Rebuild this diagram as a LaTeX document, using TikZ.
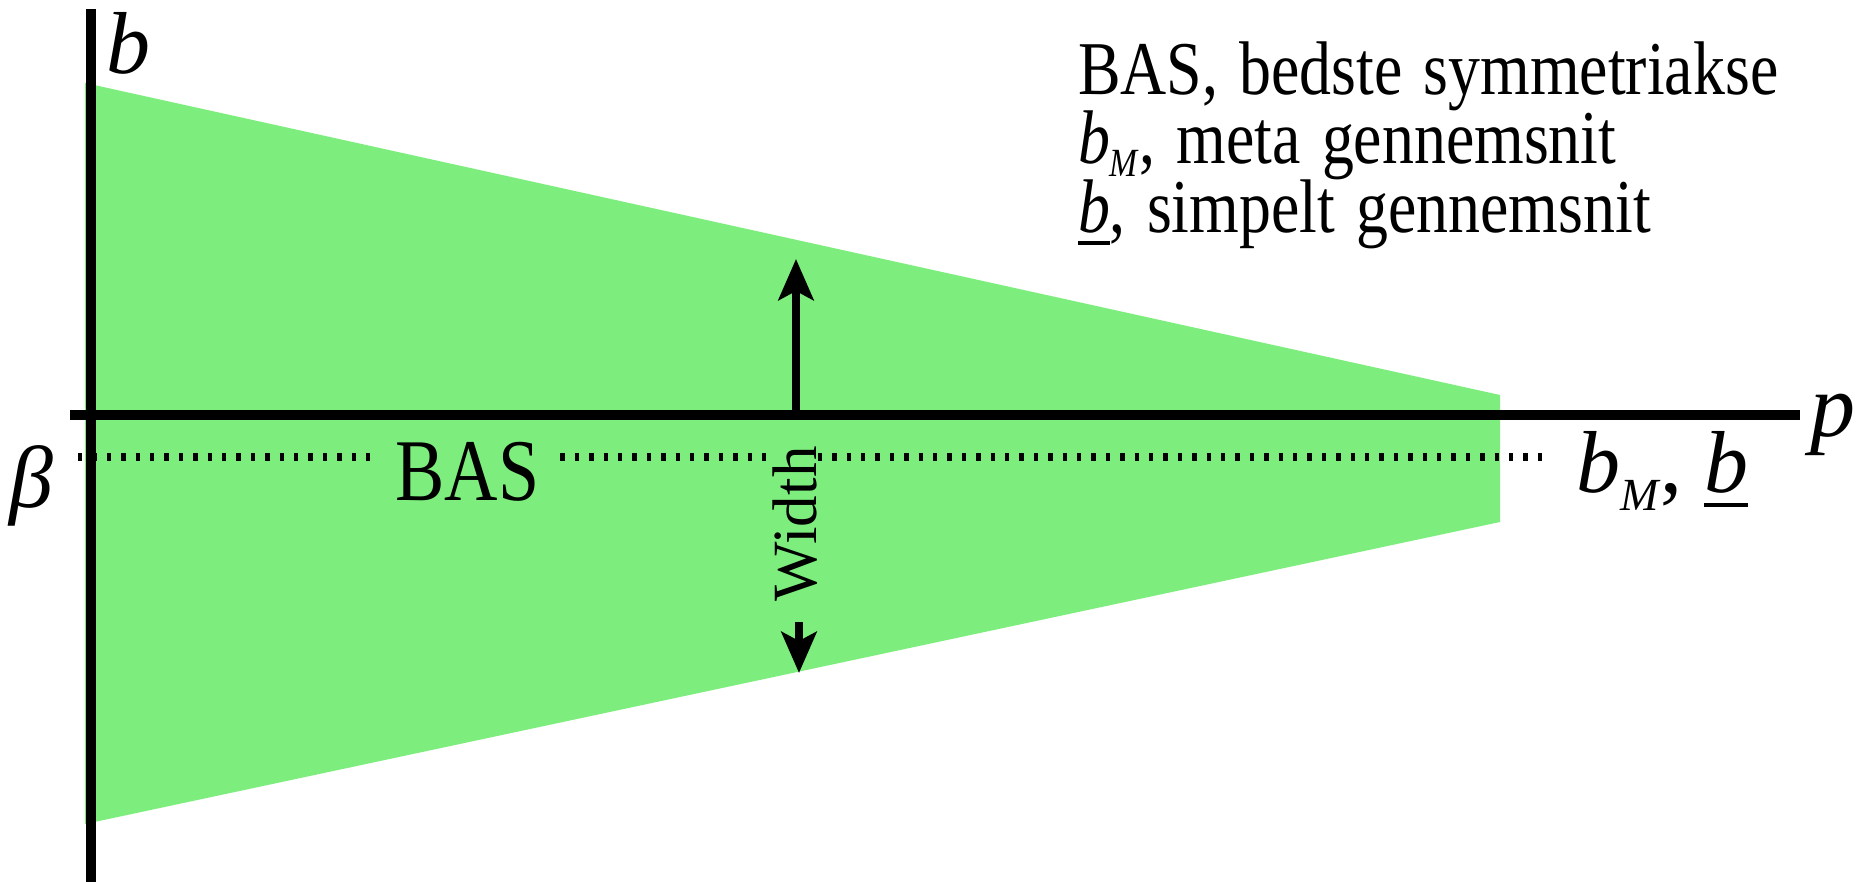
\documentclass[tikz,border=0pt]{standalone}
\usepackage{fontspec}
\setmainfont{Liberation Serif}
\usetikzlibrary{arrows.meta}
\definecolor{fillgreen}{RGB}{125,238,125}
\newcommand{\hsq}[2][0.8]{\scalebox{#1}[1]{#2}}
\newcommand{\fsz}[1]{\fontsize{#1}{#1}\selectfont}
% thick underline: #1 text, #2 depth of lower edge, #3 thickness
\newcommand{\ulx}[3]{\setbox0\hbox{#1}\rlap{\rule[-#2]{\wd0}{#3}}\box0}
\begin{document}
\begin{tikzpicture}[x=1pt,y=-1pt,
  axisline/.style={line width=10pt,line cap=butt},
  dotline/.style={line width=8pt,dash pattern=on 4.3pt off 10.1pt},
  arrowline/.style={line width=8pt,-{Stealth[length=41pt,width=35pt,inset=9pt]}},
  lbl/.style={inner sep=0pt,outer sep=0pt}]
\useasboundingbox (0,0) rectangle (1866,882);
% green region
\fill[fillgreen] (85,83) -- (1500,395) -- (1500,522) -- (85,824) -- cycle;
% labels on the dotted line
\node[lbl,inner xsep=21pt,anchor=base] (BAS) at (467.5,500) {\fsz{88}\hsq[0.84]{BAS}};
\node[lbl,inner xsep=16pt,rotate=90] (W) at (795.5,524) {\fsz{63}Width};
\coordinate (dl) at (78,457);
\coordinate (dr) at (1552,457);
\draw[dotline] (dl) -- (dl -| BAS.west);
\draw[dotline] (dl -| BAS.east) -- (dl -| W.north);
\draw[dotline] (dl -| W.south) -- (dr);
% axes
\coordinate (xs) at (70,415);
\coordinate (xe) at (1800,415);
\coordinate (ys) at (91,9);
\coordinate (ye) at (91,882);
\draw[axisline] (xs) -- (xe);
\draw[axisline] (ys) -- (ye);
% arrows
\coordinate (upbase) at (796,410);
\coordinate (uptip) at (796,259);
\coordinate (dnbase) at (799,622);
\coordinate (dntip) at (799,673);
\draw[arrowline] (upbase) -- (uptip);
\draw[arrowline] (dnbase) -- (dntip);
% axis labels
\node[lbl] (lb) at (128,43) {\fsz{88}\textit{b}};
\node[lbl] (lp) at (1833,425) {\fsz{90}\textit{p}};
\node[lbl] (lbeta) at (31,486) {\fsz{88}\textit{β}};
\node[lbl,anchor=base west] (lbm) at (1576,492) {\fsz{88}\textit{b}\raisebox{-18pt}{\fsz{46}\textit{M}}, \ulx{\textit{b}}{15pt}{4pt}};
% legend
\node[lbl,anchor=base west,text width=800pt,align=left,
  font={\fontsize{76}{69}\selectfont\lineskiplimit=-200pt}] (leg) at (1078,95)
  {\hsq[0.84]{BAS, bedste symmetriakse}\\
   \hsq[0.84]{\textit{b}\raisebox{-13pt}{\fsz{40}\textit{M}}, meta gennemsnit}\\
   \hsq[0.84]{\ulx{\textit{b}}{12pt}{4pt}, simpelt gennemsnit}};
\end{tikzpicture}
\end{document}
